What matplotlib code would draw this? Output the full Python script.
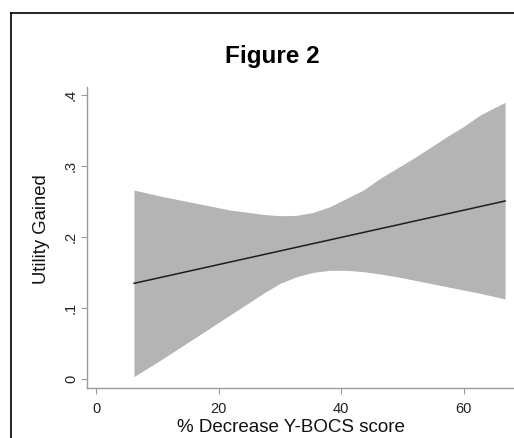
import matplotlib
matplotlib.use("Agg")
import matplotlib.pyplot as plt
from matplotlib.lines import Line2D

plt.rcParams['font.family'] = ['Liberation Sans', 'DejaVu Sans']

# Data
pct_decrease = [6.20, 10.99, 16.44, 21.88, 27.32, 30.04, 32.76, 35.48, 38.20,
                40.93, 43.65, 46.37, 49.09, 51.81, 54.53, 57.25, 59.97, 62.69,
                66.78]
ci_upper = [0.2662, 0.2568, 0.2474, 0.2380, 0.2319, 0.2300, 0.2305, 0.2347,
            0.2427, 0.2545, 0.2662, 0.2826, 0.2967, 0.3108, 0.3258, 0.3413,
            0.3554, 0.3718, 0.3897]
ci_lower = [0.0033, 0.0291, 0.0596, 0.0901, 0.1207, 0.1347, 0.1441, 0.1502,
            0.1531, 0.1531, 0.1512, 0.1479, 0.1441, 0.1394, 0.1347, 0.1300,
            0.1254, 0.1207, 0.1127]
fit_x = [6.20, 66.78]
fit_y = [0.1347, 0.2507]

x_ticks = [0, 20, 40, 60]
x_tick_labels = ["0", "20", "40", "60"]
y_ticks = [0, 0.1, 0.2, 0.3, 0.4]
y_tick_labels = ["0", ".1", ".2", ".3", ".4"]

W, H = 514, 438
fig = plt.figure(figsize=(W / 100, H / 100), dpi=100)
fig.patch.set_facecolor("white")

ax = fig.add_axes([87 / W, (H - 388) / H, (W - 87) / W, (388 - 87) / H])
ax.fill_between(pct_decrease, ci_lower, ci_upper, color="#b4b4b4", linewidth=0)
ax.plot(fit_x, fit_y, color="#1e1e1e", linewidth=1.1)

ax.set_xlim(-1.47, 68.24)
ax.set_ylim(-0.0127, 0.4113)

for s in ["top", "right"]:
    ax.spines[s].set_visible(False)
for s in ["left", "bottom"]:
    ax.spines[s].set_color("#9a9a9a")
    ax.spines[s].set_linewidth(1.0)

ax.set_xticks(x_ticks)
ax.set_xticklabels(x_tick_labels, fontsize=10.5)
ax.set_yticks(y_ticks)
ax.set_yticklabels(y_tick_labels, fontsize=10.5, rotation=90, va="center")
ax.tick_params(axis="both", colors="#9a9a9a", length=4, width=0.8,
               labelcolor="#222222")
ax.tick_params(axis="x", pad=6)
ax.tick_params(axis="y", pad=2.5)

ax.set_xlabel("% Decrease Y-BOCS score", fontsize=13.5, color="#111111")
ax.xaxis.set_label_coords(0.4766, -0.102)
ax.set_ylabel("Utility Gained", fontsize=13.3, color="#111111")
ax.yaxis.set_label_coords(-0.087, 0.528)

fig.text(272 / W, (H - 57) / H, "Figure 2", fontsize=17.5, fontweight="bold",
         ha="center", va="center", color="black")

# outer frame (cropped)
fig.add_artist(Line2D([11 / W, 11 / W], [0, (H - 13) / H], color="black",
                      linewidth=1.2, transform=fig.transFigure))
fig.add_artist(Line2D([11 / W, 1.0], [(H - 13) / H, (H - 13) / H], color="black",
                      linewidth=1.2, transform=fig.transFigure))

fig.savefig("out.png", dpi=100)
